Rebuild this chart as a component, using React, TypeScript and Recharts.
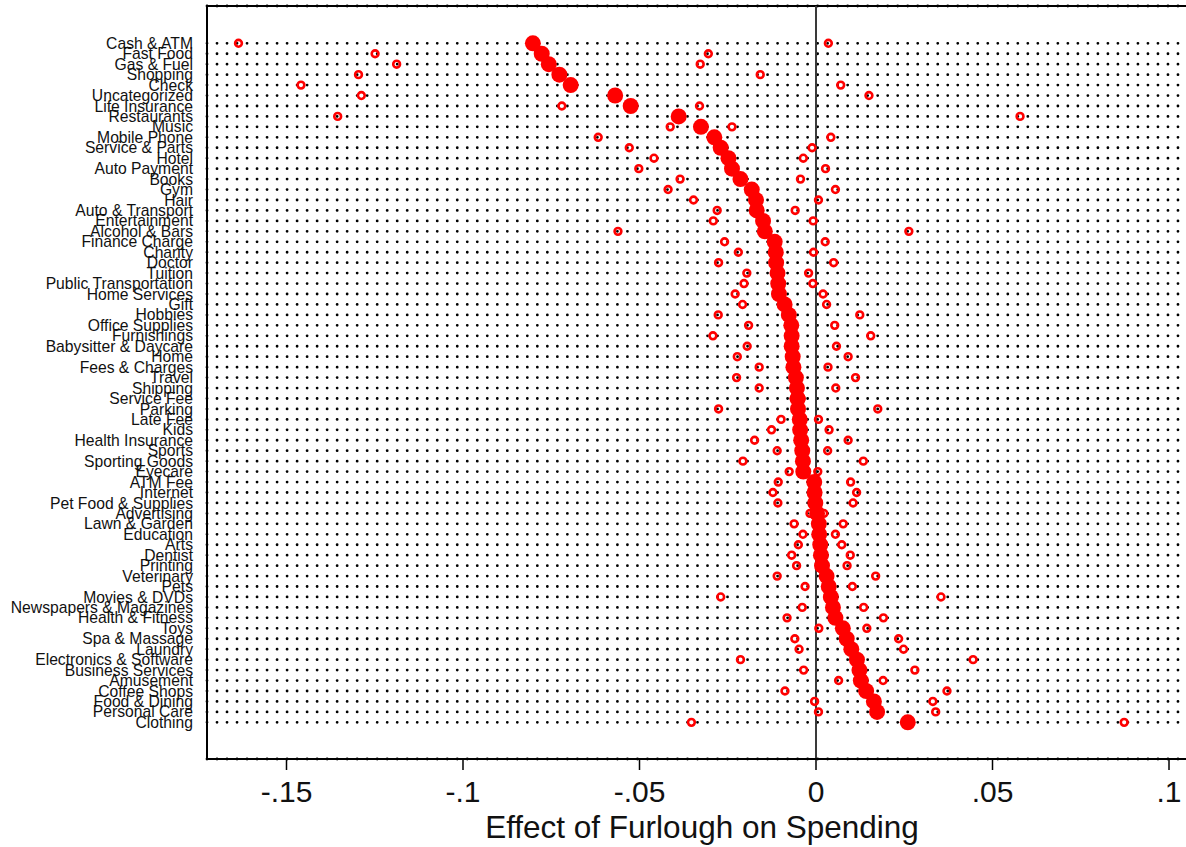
import { ScatterChart, Scatter, XAxis, YAxis, CartesianGrid, ReferenceLine } from 'recharts'

const categories = [
  'Cash & ATM', 'Fast Food', 'Gas & Fuel', 'Shopping', 'Check', 'Uncategorized', 'Life Insurance',
  'Restaurants', 'Music', 'Mobile Phone', 'Service & Parts', 'Hotel', 'Auto Payment', 'Books', 'Gym',
  'Hair', 'Auto & Transport', 'Entertainment', 'Alcohol & Bars', 'Finance Charge', 'Charity', 'Doctor',
  'Tuition', 'Public Transportation', 'Home Services', 'Gift', 'Hobbies', 'Office Supplies', 'Furnishings',
  'Babysitter & Daycare', 'Home', 'Fees & Charges', 'Travel', 'Shipping', 'Service Fee', 'Parking',
  'Late Fee', 'Kids', 'Health Insurance', 'Sports', 'Sporting Goods', 'Eyecare', 'ATM Fee', 'Internet',
  'Pet Food & Supplies', 'Advertising', 'Lawn & Garden', 'Education', 'Arts', 'Dentist', 'Printing',
  'Veterinary', 'Pets', 'Movies & DVDs', 'Newspapers & Magazines', 'Health & Fitness', 'Toys',
  'Spa & Massage', 'Laundry', 'Electronics & Software', 'Business Services', 'Amusement', 'Coffee Shops',
  'Food & Dining', 'Personal Care', 'Clothing',
]

// point estimates (big dots)
const estimates = [
  -0.0802, -0.0777, -0.0757, -0.0727, -0.0695, -0.0569, -0.0525, -0.0389, -0.0326, -0.0288,
  -0.0270, -0.0248, -0.0238, -0.0214, -0.0182, -0.0170, -0.0168, -0.0150, -0.0145, -0.0117,
  -0.0114, -0.0113, -0.0109, -0.0107, -0.0105, -0.0089, -0.0077, -0.0070, -0.0069, -0.0069,
  -0.0066, -0.0064, -0.0057, -0.0054, -0.0052, -0.0051, -0.0046, -0.0045, -0.0042, -0.0039,
  -0.0037, -0.0036, -0.0005, -0.0004, -0.0002, 0.0003, 0.0008, 0.0009, 0.0012, 0.0014,
  0.0017, 0.0030, 0.0036, 0.0042, 0.0048, 0.0055, 0.0076, 0.0087, 0.0100, 0.0116,
  0.0123, 0.0127, 0.0142, 0.0164, 0.0173, 0.0260,
]

// confidence interval ends (hollow circles)
const lowerBounds = [
  -0.1636, -0.1249, -0.1188, -0.1296, -0.1459, -0.1288, -0.0720, -0.1355, -0.0413, -0.0617,
  -0.0529, -0.0459, -0.0502, -0.0385, -0.0419, -0.0347, -0.0280, -0.0291, -0.0561, -0.0259,
  -0.0220, -0.0276, -0.0196, -0.0204, -0.0229, -0.0208, -0.0277, -0.0191, -0.0292, -0.0195,
  -0.0223, -0.0161, -0.0225, -0.0161, -0.0062, -0.0276, -0.0099, -0.0126, -0.0174, -0.0110,
  -0.0207, -0.0076, -0.0107, -0.0122, -0.0108, -0.0017, -0.0062, -0.0037, -0.0050, -0.0069,
  -0.0055, -0.0110, -0.0031, -0.0270, -0.0039, -0.0082, 0.0008, -0.0060, -0.0048, -0.0214,
  -0.0035, 0.0064, -0.0088, -0.0004, 0.0007, -0.0353,
]

const upperBounds = [
  0.0035, -0.0305, -0.0328, -0.0158, 0.0070, 0.0150, -0.0330, 0.0578, -0.0238, 0.0042,
  -0.0011, -0.0036, 0.0027, -0.0044, 0.0055, 0.0007, -0.0059, -0.0008, 0.0263, 0.0026,
  -0.0007, 0.0050, -0.0021, -0.0009, 0.0020, 0.0030, 0.0124, 0.0053, 0.0155, 0.0058,
  0.0091, 0.0034, 0.0112, 0.0056, -0.0042, 0.0175, 0.0007, 0.0037, 0.0091, 0.0033,
  0.0134, 0.0005, 0.0098, 0.0115, 0.0105, 0.0022, 0.0077, 0.0055, 0.0073, 0.0097,
  0.0088, 0.0169, 0.0103, 0.0354, 0.0135, 0.0191, 0.0144, 0.0234, 0.0248, 0.0445,
  0.0280, 0.0190, 0.0371, 0.0331, 0.0339, 0.0873,
]

const xTicks = [-0.15, -0.1, -0.05, 0, 0.05, 0.1]

const X_DOMAIN: [number, number] = [-0.17252, 0.10793]
const Y_DOMAIN: [number, number] = [-3.57, 68.51]

const pointData = categories.map((name, i) => ({ name, row: i, x: estimates[i] }))
const boundData = categories.flatMap((name, i) => [
  { name, row: i, x: lowerBounds[i] },
  { name, row: i, x: upperBounds[i] },
])
const rowTicks = categories.map((_, i) => i)

// stata style: -.15, .05, 0
const fmtX = (v: number) => (v === 0 ? '0' : String(v).replace('0.', '.'))

const BigDot = (props: any) => <circle cx={props.cx} cy={props.cy} r={8} fill="#ff0000" />
const RingDot = (props: any) => (
  <circle cx={props.cx} cy={props.cy} r={3.4} fill="none" stroke="#ff0000" strokeWidth={2.6} />
)

export default function App() {
  return (
    <div
      style={{
        position: 'absolute', left: 0, top: 0, width: 1186, height: 847, overflow: 'hidden',
        background: '#fff', fontFamily: '"Liberation Sans", Arial, Helvetica, sans-serif',
      }}
    >
      <ScatterChart width={1197} height={847} margin={{ top: 6, right: 0, bottom: 0, left: 0 }}>
        <CartesianGrid
          horizontal
          vertical={false}
          stroke="#000"
          strokeWidth={2.8}
          strokeDasharray="0.01 10"
          strokeLinecap="round"
        />
        <XAxis
          type="number"
          dataKey="x"
          domain={X_DOMAIN}
          ticks={xTicks}
          allowDataOverflow
          tickFormatter={fmtX}
          height={88}
          tickSize={11}
          tickMargin={11}
          axisLine={{ stroke: '#000', strokeWidth: 2 }}
          tickLine={{ stroke: '#000', strokeWidth: 1.5 }}
          tick={{ fontSize: 30, fill: '#111' }}
          label={{ value: 'Effect of Furlough on Spending', position: 'insideBottom', offset: 9, fontSize: 31.5, fill: '#111' }}
        />
        <YAxis
          type="number"
          dataKey="row"
          domain={Y_DOMAIN}
          reversed
          ticks={rowTicks}
          interval={0}
          allowDataOverflow
          width={207}
          tickSize={0}
          tickMargin={14}
          tickLine={false}
          axisLine={{ stroke: '#000', strokeWidth: 2 }}
          tick={{ fontSize: 15.7, fill: '#111' }}
          tickFormatter={(v: number) => categories[v] ?? ''}
        />
        <ReferenceLine y={Y_DOMAIN[0]} stroke="#000" strokeWidth={2} />
        <ReferenceLine x={0} stroke="#3a3a3a" strokeWidth={2} />
        <Scatter data={boundData} shape={RingDot} isAnimationActive={false} />
        <Scatter data={pointData} shape={BigDot} isAnimationActive={false} />
      </ScatterChart>
    </div>
  )
}
